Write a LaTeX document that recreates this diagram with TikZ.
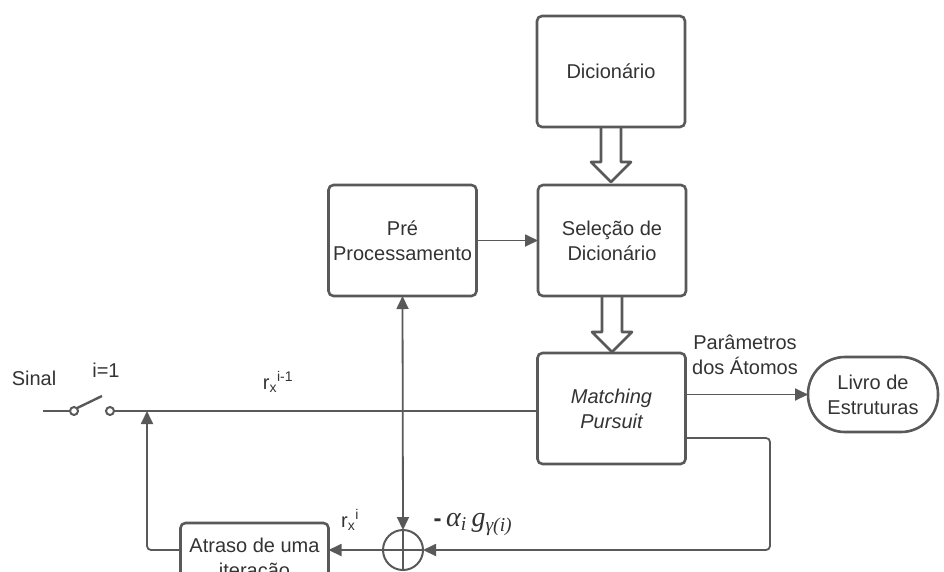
\documentclass[tikz,border=0pt]{standalone}
\usepackage{fontspec}
\setmainfont{Liberation Sans}
\newfontfamily\timesfont{Liberation Serif}
\usepackage{xcolor}
\usepackage{tikz}
\usetikzlibrary{arrows.meta}
\definecolor{LineGray}{RGB}{89,89,89}
\definecolor{TextGray}{RGB}{51,51,51}

\begin{document}
\begin{tikzpicture}[x=1pt, y=-1pt, >={Triangle[length=13pt, width=12pt]},
		every node/.style={font=\fontsize{20}{25}\selectfont, text=TextGray, align=center},
		block/.style={draw=LineGray, line width=2.6pt, rounded corners=5pt, minimum width=148pt, minimum height=111pt, inner sep=0pt, outer sep=0pt},
		wire/.style={draw=LineGray, line width=1.8pt},
		fat/.style={draw=LineGray, line width=2.6pt, line join=round}]
		\useasboundingbox (0,0) rectangle (944,571);
		
		% blocos
		\node[block] (dic) at (611, 71.5) {Dicionário};
		\node[block] (sel) at (612, 240.5) {Seleção de\\Dicionário};
		\node[block] (pre) at (402.5, 240.5) {Pré\\Processamento};
		\node[block, font=\fontsize{20}{25}\selectfont\itshape] (mp) at (611.5, 408.5) {Matching\\Pursuit};
		\node[block, rounded corners=37pt, minimum width=130pt, minimum height=75pt] (livro) at (873, 394.5) {Livro de\\Estruturas};
		\node[block, minimum height=74pt] (atraso) at (254.5, 560) {Atraso de uma\\iteração};
		\node[draw=LineGray, line width=2pt, circle, minimum size=40pt, inner sep=0pt, outer sep=0pt] (sum) at (403, 550) {};
		\draw[wire] (sum.north) -- (sum.south);
		\draw[wire] (sum.west) -- (sum.east);
		
		% setas largas
		\draw[fat] (dic.south) ++(-10, 0) -- ++(0, 35) -- ++(-10, 0) -- ++(20, 20) -- ++(20, -20) -- ++(-10, 0) -- ++(0, -35);
		\draw[fat] (sel.south) ++(-10, 0) -- ++(0, 36) -- ++(-10, 0) -- ++(20, 20) -- ++(20, -20) -- ++(-10, 0) -- ++(0, -36);
		
		% chave
		\coordinate (sig) at (43, 411);
		\coordinate (blade) at (102, 396);
		\coordinate (swend) at (133, 411);
		\coordinate (jn) at (147, 411);
		\coordinate (fb) at (770, 550);
		\node[draw=LineGray, line width=2pt, circle, minimum size=8pt, inner sep=0pt, outer sep=0pt] (c1) at (74, 411) {};
		\node[draw=LineGray, line width=2pt, circle, minimum size=8pt, inner sep=0pt, outer sep=0pt] (c2) at (110, 411) {};
		\draw[LineGray, line width=2.4pt] (sig) -- (c1.west);
		\draw[LineGray, line width=2.4pt] (c1.north east) -- (blade);
		\draw[LineGray, line width=2.4pt] (c2.east) -- (swend);
		
		% ligacoes
		\draw[wire] (swend) -- (swend -| mp.west);
		\draw[wire, ->] (pre) -- (sel);
		\draw[wire, ->] (mp.east |- livro.west) -- (livro.west);
		\draw[wire, ->, rounded corners=4pt] ([yshift=-29.5pt]mp.east) -| (fb) -- (sum.east);
		\draw[wire, <->] (sum.north) -- (pre.south);
		\draw[wire, ->] (sum.west) -- (sum.west -| atraso.east);
		\draw[wire, ->, rounded corners=4pt] (sum.west -| atraso.west) -| (jn);
		
		% rotulos
		\node (sinal) at (34, 378) {Sinal};
		\node (ieq) at (106, 370) {i=1};
		\node (rprev) at (278, 382) {r\textsubscript{x}\textsuperscript{i-1}};
		\node (par) at (745, 355) {Parâmetros\\dos Átomos};
		\node (rcur) at (350, 520) {r\textsubscript{x}\textsuperscript{i}};
		\node[anchor=west, font=\fontsize{28}{32}\selectfont] (alpha) at (430, 524) {{\fontsize{24}{28}\selectfont\textbf{-}}\,{\timesfont\itshape α\textsubscript{i}\,g\textsubscript{γ(i)}}};
	\end{tikzpicture}
\end{document}
